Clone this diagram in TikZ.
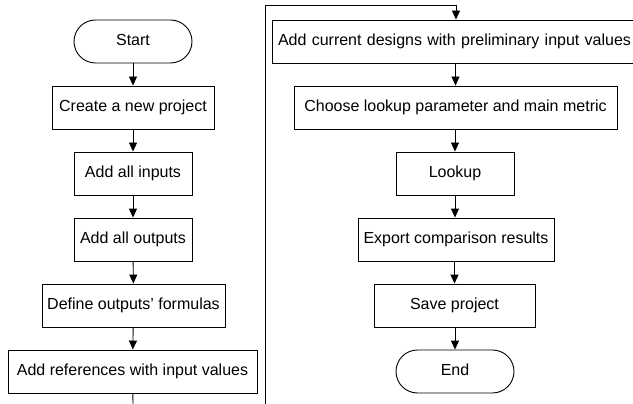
\documentclass[tikz,border=0pt]{standalone}
\usepackage{fontspec}
\setmainfont{Liberation Sans}
\usetikzlibrary{arrows.meta}
\begin{document}
\begin{tikzpicture}[x=1pt,y=-1pt,
  every node/.style={font=\fontsize{16}{19}\selectfont, inner sep=0pt, text height=12pt, text depth=3.2pt},
  procbox/.style={draw, line width=0.9pt, minimum height=43pt},
  termbox/.style={draw, line width=0.9pt, minimum height=43pt, minimum width=118pt, rounded corners=21.5pt},
  flow/.style={draw, line width=0.9pt, -{Triangle[width=8pt,length=9pt]}},
  plainline/.style={draw, line width=0.9pt}
]
\clip (0,0) rectangle (633,404);

% left column
\node[termbox] (start) at (133,41.5) {Start};
\node[procbox, minimum width=162pt] (create) at (133,107.5) {Create a new project};
\node[procbox, minimum width=118pt] (inputs) at (133,173.5) {Add all inputs};
\node[procbox, minimum width=118pt] (outputs) at (133,239.5) {Add all outputs};
\node[procbox, minimum width=183pt] (formulas) at (133.5,305.5) {Define outputs’ formulas};
\node[procbox, minimum width=249pt] (refs) at (132.5,371.5) {Add references with input values};

% right column
\node[procbox, minimum width=368pt, text width=368pt, align=left] (current) at (456,41.5) {\hspace*{6pt}Add current designs with preliminary input values};
\node[procbox, minimum width=323pt] (choose) at (455.5,107.5) {Choose lookup parameter and main metric};
\node[procbox, minimum width=118pt] (lookup) at (455,173.5) {Lookup};
\node[procbox, minimum width=196pt] (export) at (456,239.5) {Export comparison results};
\node[procbox, minimum width=161pt] (save) at (454.5,305.5) {Save project};
\node[termbox] (end) at (455,371.5) {End};

% wrap-around connector between the two columns
\coordinate (cutL) at (133,404);
\coordinate (cutR) at (265,404);
\coordinate (topR) at (265,5);

\draw[flow] (start) -- (create);
\draw[flow] (create) -- (inputs);
\draw[flow] (inputs) -- (outputs);
\draw[flow] (outputs) -- (formulas);
\draw[flow] (formulas) -- (refs);
\draw[plainline] (refs) -- (cutL);
\draw[flow] (cutR) -- (topR) -| (current.north);
\draw[flow] (current.south -| choose.north) -- (choose);
\draw[flow] (choose.south -| lookup.north) -- (lookup);
\draw[flow] (lookup) -- (lookup |- export.north);
\draw[flow] (export.south -| save.north) -- (save);
\draw[flow] (save.south -| end.north) -- (end);
\end{tikzpicture}
\end{document}
